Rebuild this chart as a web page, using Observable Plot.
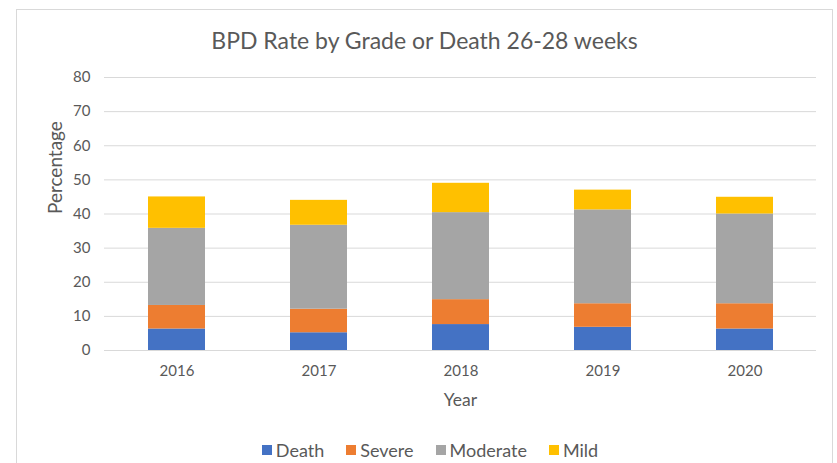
<!DOCTYPE html>
<html>
<head>
<meta charset="utf-8">
<script src="https://cdn.jsdelivr.net/npm/d3@7"></script>
<script src="https://cdn.jsdelivr.net/npm/@observablehq/plot@0.6"></script>
<style>
  html, body { margin: 0; padding: 0; background: #fff; }
  #wrap { position: relative; width: 837px; height: 463px; overflow: hidden; font-family: Lato, "Open Sans", sans-serif; color: #595959; }
  #frame { position: absolute; left: 16px; top: 9px; width: 817px; height: 470px; border: 1px solid #d9d9d9; box-sizing: border-box; }
  #title { position: absolute; left: 16px; width: 817px; top: 25px; text-align: center; font-size: 23px; line-height: 30px; color: #595959; }
  #chart { position: absolute; left: 0; top: 60px; }
  #legend { position: absolute; left: 0; width: 860px; top: 438px; height: 24px; display: flex; justify-content: center; align-items: center; gap: 22px; font-size: 18px; color: #595959; }
  #legend span.item { display: flex; align-items: center; white-space: nowrap; }
  #legend span.sw { display: inline-block; width: 10px; height: 10px; margin-right: 4px; }
</style>
</head>
<body>
<div id="wrap">
  <div id="frame"></div>
  <div id="title">BPD Rate by Grade or Death 26-28 weeks</div>
  <div id="chart"></div>
  <div id="legend"></div>
</div>
<script>
const years = ["2016", "2017", "2018", "2019", "2020"];
const series = ["Death", "Severe", "Moderate", "Mild"];
const colors = ["#4472C4", "#ED7D31", "#A5A5A5", "#FFC000"];
const death = [6.3, 5.2, 7.6, 6.8, 6.3];
const severe = [6.9, 6.9, 7.3, 6.9, 7.4];
const moderate = [22.6, 24.6, 25.5, 27.5, 26.3];
const mild = [9.2, 7.3, 8.6, 5.8, 4.9];
const yTicks = [0, 10, 20, 30, 40, 50, 60, 70, 80];

const valuesBySeries = [death, severe, moderate, mild];
const data = [];
series.forEach((s, i) => years.forEach((y, j) => data.push({year: y, series: s, value: valuesBySeries[i][j]})));

const chart = Plot.plot({
  width: 837,
  height: 360,
  marginTop: 17,
  marginBottom: 70,
  marginLeft: 104,
  marginRight: 21,
  style: {fontFamily: "Lato, 'Open Sans', sans-serif", fontSize: "15px", color: "#595959", background: "transparent"},
  x: {domain: years, paddingInner: 0.6, paddingOuter: 0.3, label: null},
  y: {domain: [0, 80], ticks: yTicks, label: null},
  color: {domain: series, range: colors},
  marks: [
    Plot.gridY(yTicks, {stroke: "#d9d9d9", strokeOpacity: 1, strokeWidth: 1}),
    Plot.barY(data, {x: "year", y: "value", fill: "series", order: series}),
    Plot.axisY(yTicks, {tickSize: 0, tickPadding: 14, fontSize: 15, fill: "#595959", label: null}),
    Plot.axisX(years, {tickSize: 0, tickPadding: 15, fontSize: 15, fill: "#595959", label: null}),
    Plot.text(["Year"], {frameAnchor: "bottom", lineAnchor: "middle", dy: 50, fontSize: 17.5, fill: "#595959"}),
    Plot.text(["Percentage"], {frameAnchor: "left", lineAnchor: "middle", dx: -49, rotate: -90, fontSize: 19, fill: "#595959"})
  ]
});
document.getElementById("chart").appendChild(chart);

const legend = document.getElementById("legend");
series.forEach((s, i) => {
  const item = document.createElement("span");
  item.className = "item";
  const sw = document.createElement("span");
  sw.className = "sw";
  sw.style.background = colors[i];
  item.appendChild(sw);
  item.appendChild(document.createTextNode(s));
  legend.appendChild(item);
});
</script>
</body>
</html>
